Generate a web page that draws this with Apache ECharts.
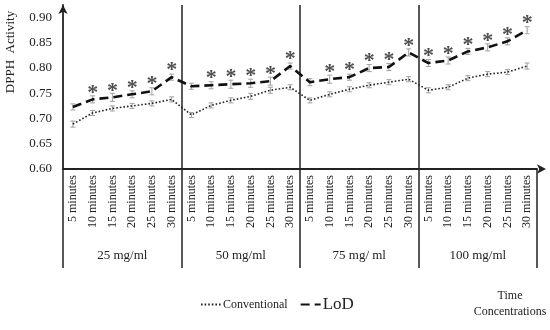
<!DOCTYPE html>
<html><head><meta charset="utf-8">
<script src="https://cdn.jsdelivr.net/npm/echarts@6/dist/echarts.min.js"></script>
<style>html,body{margin:0;padding:0;background:#fff}#c{width:550px;height:330px}</style>
</head><body><div id="c"></div>
<script>
const times = ['5 minutes','10 minutes','15 minutes','20 minutes','25 minutes','30 minutes'];
const concentrations = ['25 mg/ml','50 mg/ml','75 mg/ ml','100 mg/ml'];
const yTicks = [0.60,0.65,0.70,0.75,0.80,0.85,0.90];
const conventional = [0.689,0.711,0.720,0.725,0.730,0.738,
                      0.707,0.726,0.736,0.744,0.756,0.762,
                      0.736,0.748,0.758,0.766,0.772,0.778,
                      0.756,0.762,0.780,0.788,0.792,0.804];
const lod = [0.723,0.738,0.742,0.748,0.754,0.782,
             0.764,0.766,0.768,0.770,0.774,0.804,
             0.772,0.778,0.782,0.800,0.802,0.831,
             0.810,0.815,0.833,0.841,0.853,0.875];
const convErr = [0.006,0.005,0.005,0.005,0.005,0.005,
                 0.005,0.005,0.005,0.006,0.006,0.005,
                 0.005,0.005,0.005,0.005,0.005,0.005,
                 0.005,0.005,0.005,0.005,0.005,0.006];
const lodErr = [0.006,0.007,0.008,0.007,0.007,0.006,
                0.006,0.007,0.008,0.008,0.008,0.006,
                0.007,0.008,0.006,0.007,0.007,0.007,
                0.007,0.007,0.006,0.007,0.007,0.007];
const starFlags = [0,1,1,1,1,1, 0,1,1,1,1,1, 0,1,1,1,1,1, 1,1,1,1,1,1];

const categories = [];
concentrations.forEach(() => times.forEach(t => categories.push(t)));
const FONT = '"Liberation Serif","Times New Roman",serif';

function errSeries(vals, errs, name) {
  return {
    type: 'custom', name: name + ' err', xAxisIndex: 0, yAxisIndex: 0, z: 3,
    silent: true, legendHoverLink: false,
    data: vals.map((v, i) => [i, v - errs[i], v + errs[i]]),
    renderItem: function (params, api) {
      const lo = api.coord([api.value(0), api.value(1)]);
      const hi = api.coord([api.value(0), api.value(2)]);
      const w = 2.5;
      const st = { stroke: '#a0a0a0', lineWidth: 1 };
      return { type: 'group', children: [
        { type: 'line', shape: { x1: lo[0], y1: lo[1], x2: hi[0], y2: hi[1] }, style: st },
        { type: 'line', shape: { x1: lo[0]-w, y1: lo[1], x2: lo[0]+w, y2: lo[1] }, style: st },
        { type: 'line', shape: { x1: hi[0]-w, y1: hi[1], x2: hi[0]+w, y2: hi[1] }, style: st }
      ]};
    }
  };
}

const chart = echarts.init(document.getElementById('c'), null, { renderer: 'canvas' });
chart.setOption({
  animation: false,
  backgroundColor: '#fff',
  grid: { left: 63, right: 13, top: 5, bottom: 161, containLabel: false, outerBoundsMode: 'none' },
  graphic: [{
    type: 'text', x: 510, y: 288, silent: true,
    style: { text: 'Time\nConcentrations', align: 'center', verticalAlign: 'top',
      font: '12px "Liberation Serif", serif', fill: '#222', lineHeight: 16 }
  }],
  legend: {
    left: 195, top: 291, itemWidth: 20, itemHeight: 10, itemGap: 12,
    itemStyle: { color: 'transparent', borderColor: 'transparent', borderWidth: 0 },
    data: [
      { name: 'Conventional', textStyle: { fontSize: 12 } },
      { name: 'LoD', textStyle: { fontSize: 17 } }
    ],
    textStyle: { fontFamily: FONT, color: '#222', padding: [0, 0, 0, -3] }
  },
  xAxis: [
    {
      type: 'category', data: categories, position: 'bottom',
      axisLine: { show: true, lineStyle: { color: '#222', width: 1.8 }, symbol: ['none', 'arrow'], symbolSize: [7, 9], symbolOffset: [0, 9] },
      axisTick: { show: false },
      axisLabel: { interval: 0, rotate: 90, margin: 6, fontFamily: FONT, fontSize: 12, color: '#222' },
      splitLine: { show: false }
    },
    {
      type: 'category', data: concentrations, position: 'bottom',
      axisLine: { show: false },
      axisTick: { show: true, length: 99, lineStyle: { color: '#222', width: 1.5 } },
      axisLabel: { interval: 0, margin: 80, fontFamily: FONT, fontSize: 13, color: '#222' },
      splitLine: { show: true, showMinLine: false, showMaxLine: false, lineStyle: { color: '#222', width: 1.5 } }
    }
  ],
  yAxis: {
    type: 'value', min: 0.6, max: 0.925, interval: 0.05,
    name: 'DPPH  Activity', nameLocation: 'middle', nameRotate: 90, nameGap: 46,
    nameTextStyle: { fontFamily: FONT, fontSize: 13, color: '#222', padding: [0, 0, 0, 70] },
    axisLine: { show: true, lineStyle: { color: '#222', width: 1.8 }, symbol: ['none', 'arrow'], symbolSize: [7, 9] },
    axisTick: { show: false },
    splitLine: { show: false },
    axisLabel: { showMaxLabel: false, margin: 11, fontFamily: FONT, fontSize: 13, color: '#222',
      formatter: v => yTicks.some(t => Math.abs(t - v) < 1e-6) ? v.toFixed(2) : '' }
  },
  series: [
    errSeries(conventional, convErr, 'Conventional'),
    errSeries(lod, lodErr, 'LoD'),
    {
      name: 'Conventional', type: 'line', data: conventional, symbol: 'none', z: 4,
      lineStyle: { color: '#222', width: 1.6, type: [1.6, 2] },
      itemStyle: { color: '#222' }
    },
    {
      name: 'LoD', type: 'line', data: lod, symbol: 'none', z: 5,
      lineStyle: { color: '#111', width: 2.6, type: [9, 5] },
      itemStyle: { color: '#111' }
    },
    {
      name: 'significance', type: 'scatter', data: lod.map((v, i) => [i, v]),
      symbol: 'circle', symbolSize: 1, itemStyle: { color: 'transparent' }, z: 6, silent: true,
      label: {
        show: true, position: 'top', distance: -5,
        fontFamily: FONT, fontSize: 22, fontWeight: 'bold', color: '#222',
        formatter: p => starFlags[p.dataIndex] ? '*' : ''
      },
      labelLayout: { hideOverlap: false }
    }
  ]
});
</script></body></html>
